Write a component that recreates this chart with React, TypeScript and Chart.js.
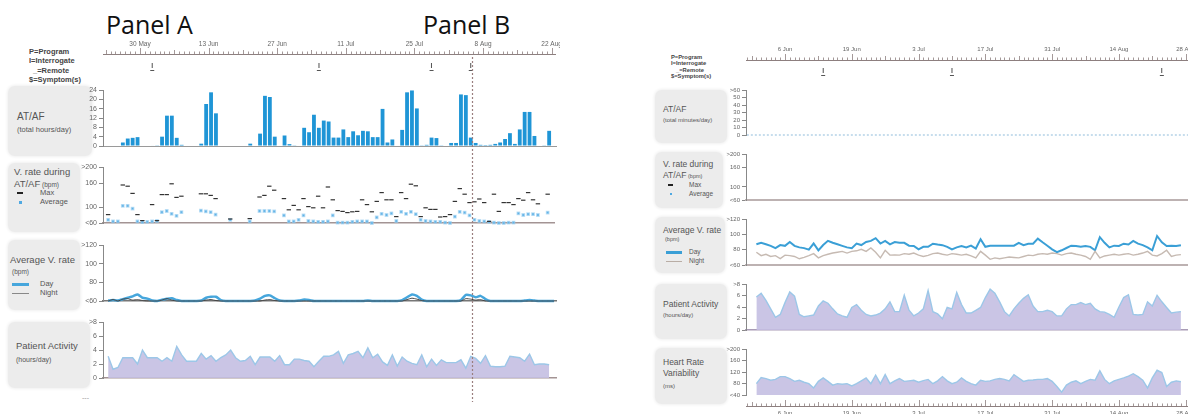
import React, { useEffect, useRef } from "react";
import { Chart, registerables } from "chart.js";
Chart.register(...registerables);

const FONT = "'Liberation Sans', Arial, sans-serif";
Chart.defaults.font.family = FONT;

// ---------------- DATA: Panel A ----------------
const tickLabelsA = ["30 May", "13 Jun", "27 Jun", "11 Jul", "25 Jul", "8 Aug", "22 Aug"];
const tickDaysA = [0, 14, 28, 42, 56, 70, 84];
const markerDaysA = [2.5, 36.5, 59.5, 67.5];
const eventDayA = 67.7;
const startDayA = -7;
const atafHoursA = [
  0, 0, 0, 1.5, 3.2, 3.5, 3.8,
  0, 0, 0.2, 0.3, 4, 13, 13, 3.5, 0.5,
  0, 0, 0, 1, 18, 23, 14,
  0, 0, 0, 0, 0, 0, 1, 0,
  5.3, 21.5, 21, 4, 0, 4.5, 0.8, 0.3, 0,
  7.8, 5.9, 13.4, 7.8, 10.9, 10.5, 3.6, 3.6, 7.1, 3.8,
  6.3, 4.6, 6.5, 6.3, 3.8, 3.8, 15.9, 1.5, 2.8, 0,
  6.9, 23, 23.8, 16.1, 0.3, 0.5, 3.6, 3.4, 0.3, 0,
  1.3, 1.3, 22.1, 21.8, 3.6, 1.3, 0.5, 0.4, 0.5, 0.9,
  1.5, 3, 5.5, 0.9, 7.1, 14.6, 14.6, 4.3, 0, 0.3,
  6.5, 0,
];
const vrDaysA = [
  -7, -6, -5, -4, -3, -2, -1, 0, 1, 2, 3, 4, 5, 6, 7, 8, 12, 13, 14, 15, 18, 22, 24, 25, 26, 27,
  29, 30, 31, 32, 33, 34, 35, 36, 37, 38, 39, 40, 41, 42, 43, 44, 45, 46, 47, 48, 49, 50, 51, 52,
  53, 54, 55, 56, 57, 58, 59, 60, 61, 62, 63, 64, 65, 66, 67, 68, 69, 70, 71, 72, 73, 74, 75, 76,
  77, 78, 79, 80, 81, 83,
];
const vrMaxA = [
  81, null, null, 155, 152, 134, 81, 66, null, 106, 66,
  131, 131, 158, 124, 127,
  133, 133, 129, 121,
  70, 71,
  125, 129, 152, 142,
  121, 93, 104, 93, 121, 101, 98, 127, 98, 150,
  118, 91, 89, 86, 88, 89, 118, 106, 88, 114,
  136, 118, 118, 76, 136, 121, 157, 153, 76, 98,
  94, 94, 75, 76, 81, 114, 146, 132, 111, 113,
  120, 111, 64, 132, 89, 111, 111, 106, 121, 117,
  136, 118, 108, 132,
];
const vrAvgA = [
  68, 64, 64, 103, 103, 96, 64, 62, 63, 64, 65,
  87, 90, 83, 78, 87,
  91, 89, 87, 81,
  68, 64,
  90, 90, 90, 89,
  79, 64, 64, 68, 79, 65, 64, 63, 63, 64,
  79, 61, 61, 61, 63, 64, 64, 64, 60, 74,
  83, 80, 84, 65, 88, 83, 88, 82, 68, 65,
  64, 63, 63, 61, 60, 76, 88, 86, 79, 68,
  65, 64, 63, 61, 60, 60, 61, 61, 84, 80,
  82, 82, 80, 86,
];
const avgDayA = [
  60.5, 61, 60.5, 62, 63.5, 65, 67,
  63.5, 62.5, 60.5, 60, 61.5, 62.5, 63, 61, 60,
  60, 60, 60, 60.5, 63.5, 64.5, 64.5,
  61, 60, 60, 60, 60, 60, 60, 60.5,
  62.5, 65.5, 66, 63, 60.5, 60, 60, 60, 60.5,
  61.5, 61, 60, 60, 60, 60, 60, 60, 60, 60,
  60, 60, 60, 60.5, 60, 60, 60, 60, 60, 60,
  61, 64, 67, 65.5, 61.5, 60, 60, 60, 60, 60,
  60, 60, 61, 66.5, 66, 64, 65.5, 62, 60, 60,
  60, 60, 60, 60, 60, 60.5, 61, 60.5, 60, 60,
  60, 60,
];
const avgNightA = [
  60, 61.5, 60, 62, 62.5, 61, 61.5,
  60.5, 60, 60, 60, 61, 62.5, 61, 60, 60,
  60, 60, 60, 60, 61, 61.5, 60.5,
  60, 60, 60, 60, 60, 60, 60, 60,
  60, 61, 61.5, 60.5, 60, 60, 60, 60, 60,
  60, 60, 60, 60, 60, 60, 60, 60, 60, 60,
  60, 60, 60, 60, 60, 60, 60, 60, 60, 60,
  60, 61.5, 63, 62, 60.5, 60, 60, 60, 60, 60,
  60, 60, 60, 62.5, 62, 61, 61.5, 60, 60, 60,
  60, 60, 60, 60, 60, 60, 60, 60, 60, 60,
  60, 60,
];
const activityA = [
  3.1, 1.25, 1.5, 2.9, 2.9, 2.9, 2.0,
  4.0, 2.9, 2.9, 2.9, 2.4, 2.9, 2.4, 4.5, 3.3,
  2.4, 2.4, 2.4, 3.5, 2.7, 3.2, 2.4,
  2.9, 3.3, 4.0, 2.9, 2.4, 2.5, 3.1, 1.9,
  3.0, 3.0, 3.0, 2.4, 3.2, 1.9, 1.9, 2.7, 2.7,
  2.5, 2.4, 1.6, 2.4, 3.1, 3.1, 3.3, 3.8, 2.1, 3.3,
  3.5, 3.8, 2.9, 4.3, 2.9, 3.4, 2.3, 1.8, 3.3, 1.7,
  3.0, 2.4, 2.1, 1.9, 3.3, 1.6, 2.7, 1.8, 2.6, 2.2,
  2.2, 2.2, 2.6, 1.4, 3.1, 2.8, 2.1, 3.2, 1.7, 1.6,
  1.6, 1.7, 3.1, 3.0, 2.9, 2.4, 3.4, 1.9, 2.0, 2.0,
  1.9,
];

// ---------------- DATA: Panel B ----------------
const tickLabelsB = ["6 Jun", "19 Jun", "3 Jul", "17 Jul", "31 Jul", "14 Aug", "28 Aug"];
const tickDaysB = [0, 14, 28, 42, 56, 70, 84];
const markerDaysB = [8, 35, 79];
const startDayB = -6;
const atafStartB = -8;
const atafMinutesB = [
  0, 0, 0, 0, 0, 0, 0, 0, 0, 0, 0, 0, 0, 0, 0, 0, 0, 0, 0, 0, 0, 0, 0, 0, 0, 0, 0, 0, 0, 0, 0,
  0, 0, 0, 0, 0, 0, 0, 0, 0, 0, 0, 0, 0, 0, 0, 0, 0, 0, 0, 0, 0, 0, 0, 0, 0, 0, 0, 0, 0, 0, 0,
  0, 0, 0, 0, 0, 0, 0, 0, 0, 0, 0, 0, 0, 0, 0, 0, 0, 0, 0, 0, 0, 0, 0, 0, 0, 0, 0, 0, 0, 0, 0, 0,
];
const avgDayB = [
  87, 89, 87, 85, 82, 86, 85, 90, 85, 83, 82, 80, 88, 79, 86, 91.5, 89, 87, 85, 83, 82, 88, 86, 90,
  91.5, 95, 88, 91.5, 87, 90,
  88.9, 88.9, 85.2, 84.8, 80.4, 83.7, 83.7, 87.8, 86.7, 85.9, 83.7, 80.4, 83, 84.8, 83, 85.2, 81.5,
  93.7, 83.7, 85.2, 85.2, 85.2, 85.2, 85.2, 85.2, 88.9, 85.9, 87.8, 87.8, 94.4, 89.6, 85.2, 80.4,
  76.7, 79.2, 82.2, 85.2, 84.8, 83.7, 84.8, 83.7, 79.2, 96.3, 88.9, 83, 85.2, 84.8, 87.8, 86.7,
  91.5, 87.8, 85.9, 83, 79.2, 97.8, 89.6, 84.8, 85.2, 84.8, 85.9,
];
const avgNightB = [
  76.7, 72.2, 74, 71.1, 72.2, 68.4, 72.9, 72.2, 71.1, 68.1, 70, 72.2, 74.8, 69.3, 72.2, 74, 75.6,
  76.7, 77.8, 75.6, 77.8, 78.5, 80.4, 77.8, 82.2, 76.7, 69.3, 79.2, 72.9, 73,
  72.9, 74.8, 74, 75.6, 72.9, 71.1, 72.5, 74.8, 75.6, 74, 72.9, 74.8, 74, 72.9, 74, 71.8, 69.3,
  77.8, 72.9, 67.4, 69.3, 68.1, 69.3, 70.4, 69.8, 69.3, 71.1, 72.9, 72.2, 74, 74.8, 74, 75.6, 74.8,
  72.9, 74.8, 75.6, 74, 72.9, 71.1, 67.4, 77.8, 69.3, 71.8, 72.9, 74, 72.9, 74, 74.8, 72.9, 74,
  75.6, 77.8, 72.9, 71.8, 74.8, 79.2, 71.1, 72.9, 73.5,
];
const activityB = [
  5.74, 6.38, 5.15, 3.68, 2.21, 2.7, 4.76, 6.62, 5.89, 2.7, 2.3, 2.45, 2.6, 4.17, 5.05, 4.66, 3.68,
  2.8, 2.45, 2.21, 3.92, 4.42, 3.43, 2.7, 2.45, 2.6, 2.95, 3.68, 4.9, 3.19,
  3.19, 6.04, 3.43, 2.45, 2.95, 3.68, 6.87, 3.19, 2.8, 1.96, 3.92, 3.68, 6.52, 4.42, 2.95, 2.95,
  3.43, 3.92, 5.64, 7.11, 6.38, 4.9, 3.19, 2.45, 3.68, 4.66, 5.5, 6.13, 4.17, 3.19, 3.19, 3.43,
  3.19, 2.45, 2.45, 3.68, 4.42, 4.42, 4.76, 4.42, 4.66, 3.68, 3.19, 3.1, 2.7, 2.21, 4.0, 5.64,
  6.13, 2.7, 2.6, 2.7, 4.9, 4.17, 6.04, 4.9, 3.92, 2.95, 3.1, 3.19,
];
const hrvB = [
  79.4, 101, 97.2, 91.3, 94.2, 104, 104, 97.2, 87.4, 91.3, 84.4, 79.4, 64.6, 87.4, 99.3, 87.4,
  74.4, 79.4, 77.3, 79.4, 71.4, 79.4, 89.2, 99.3, 79.4, 109, 79.4, 111, 79.4, 89.2,
  97.2, 87.4, 89.2, 91.3, 84.4, 90, 94.2, 79.4, 89.2, 104, 89.2, 79.4, 84.4, 99.3, 87.4, 79.4,
  74.4, 91.3, 87.4, 89.2, 94.2, 97.2, 94.2, 89.2, 111, 99.3, 87.4, 91.3, 92, 94.2, 94.2, 97.2,
  87.4, 69.6, 49.8, 74.4, 84.4, 89.2, 79.4, 87.4, 94.2, 91.3, 124, 94.2, 79.4, 89.2, 94.2, 99.3,
  106, 114, 104, 91.3, 64.6, 99.3, 126, 118, 69.6, 84.4, 89.2, 86,
];

// ---------------- Axis tick sets ----------------
const atafTicksA = [0, 4, 8, 12, 16, 20, 24];
const atafTickLabelsA = ["0", "4", "8", "12", "16", "20", "24"];
const vrTicks = [60, 100, 160, 200];
const vrTickLabels = ["<60", "100", "160", ">200"];
const avgTicks = [60, 80, 100, 120];
const avgTickLabels = ["<60", "80", "100", ">120"];
const actTicks = [0, 2, 4, 6, 8];
const actTickLabels = ["0", "2", "4", "6", ">8"];
const atafTicksB = [0, 10, 20, 30, 40, 50, 60];
const atafTickLabelsB = ["0", "10", "20", "30", "40", "50", ">60"];
const hrvTicks = [40, 80, 120, 160, 200];
const hrvTickLabels = ["<40", "80", "120", "160", ">200"];

// ---------------- Layout ----------------
const PA = { areaLeft: 103, areaRight: 556, xMin: -7.551, xMax: 84.898, axW: 26, fs: 7 };
const PB = { areaLeft: 746, areaRight: 1196, xMin: -8.176, xMax: 86.16, axW: 24, fs: 6 };
const PADT = 7, PADB = 5, PADR = 4;

const BLUE = "#1f95d6";
const LAV = "rgba(196,191,226,0.9)";
const LAVLINE = "#9cc7e8";

type Spec = { key: string; left: number; top: number; width: number; height: number; z: number; config: () => any };

function seriesXY(arr: (number | null)[], start: number, shift: number) {
  return arr.map((v, i) => ({ x: start + i + shift, y: v }));
}

function makeRow(key: string, P: any, top: number, bottom: number, yMin: number, yMax: number,
  ticks: number[], labels: string[], datasets: any[], o: any): Spec {
  return {
    key,
    left: P.areaLeft - P.axW,
    top: top - PADT,
    width: P.areaRight - P.areaLeft + P.axW + PADR,
    height: bottom - top + PADT + PADB,
    z: 2,
    config: () => ({
      type: o.type || "line",
      data: { datasets: datasets.map((d) => ({ ...d })) },
      options: {
        animation: false,
        responsive: false,
        maintainAspectRatio: false,
        events: [],
        layout: { padding: { left: 0, right: PADR, top: PADT, bottom: PADB } },
        plugins: { legend: { display: false }, tooltip: { enabled: false } },
        scales: {
          x: {
            type: "linear", min: P.xMin, max: P.xMax, offset: false,
            ticks: { display: false }, grid: { display: false },
            border: { display: !!o.xBorder, color: o.xBorder || "#999", width: o.xBorderWidth || 1 },
          },
          y: {
            type: "linear", min: yMin, max: yMax,
            afterFit: (s: any) => { s.width = P.axW; },
            afterBuildTicks: (s: any) => { s.ticks = ticks.map((v) => ({ value: v })); },
            ticks: {
              autoSkip: false, padding: 2, color: "#666",
              font: { size: P.fs, family: FONT },
              callback: (_v: any, i: number) => labels[i],
            },
            grid: { drawOnChartArea: false, tickLength: 4, color: "#888", lineWidth: 1 },
            border: { display: true, color: "#888", width: 1 },
          },
        },
      },
    }),
  };
}

const framePlugin = {
  id: "frame",
  afterDraw(chart: any) {
    const o = chart.options.plugins.frame;
    if (!o) return;
    const xs = chart.scales.x;
    const ctx = chart.ctx;
    const L = chart.chartArea.left, R = chart.chartArea.right;
    ctx.save();
    for (const t of o.timelines) {
      ctx.strokeStyle = "#8d7f7f";
      ctx.lineWidth = 1;
      ctx.beginPath();
      ctx.moveTo(L, t.y + 0.5);
      ctx.lineTo(R, t.y + 0.5);
      ctx.stroke();
      ctx.lineWidth = 0.8;
      for (let d = Math.ceil(xs.min); d <= Math.floor(xs.max); d++) {
        const r = (((d - o.tickDays[0]) % 14) + 14) % 14;
        const len = r === 0 ? 6 : r === 7 ? 4 : 2.5;
        const x = Math.round(xs.getPixelForValue(d)) + 0.5;
        ctx.beginPath();
        ctx.moveTo(x, t.y);
        ctx.lineTo(x, t.y - len);
        ctx.stroke();
      }
      ctx.fillStyle = "#666";
      ctx.font = `${t.fs}px ${FONT}`;
      ctx.textAlign = "center";
      ctx.textBaseline = "middle";
      o.tickDays.forEach((d: number, i: number) => ctx.fillText(o.tickLabels[i], xs.getPixelForValue(d), t.labelY));
    }
    ctx.fillStyle = "#555";
    ctx.font = `bold 7px ${FONT}`;
    ctx.textAlign = "center";
    ctx.textBaseline = "middle";
    o.markerDays.forEach((d: number) => {
      const x = xs.getPixelForValue(d);
      ctx.fillText("I", x, o.markerY);
      ctx.fillRect(x - 2, o.markerY + 4, 4, 1);
    });
    if (o.eventDay != null) {
      const x = Math.round(xs.getPixelForValue(o.eventDay)) + 0.5;
      ctx.strokeStyle = "#9a7f7f";
      ctx.lineWidth = 1.2;
      ctx.setLineDash([2, 2]);
      ctx.beginPath();
      ctx.moveTo(x, o.eventTop);
      ctx.lineTo(x, o.eventBottom);
      ctx.stroke();
      ctx.setLineDash([]);
    }
    ctx.restore();
  },
};

function makeFrame(key: string, P: any, frame: any): Spec {
  return {
    key,
    left: P.areaLeft - P.axW,
    top: 0,
    width: P.areaRight - P.areaLeft + P.axW + PADR,
    height: 414,
    z: 3,
    config: () => ({
      type: "line",
      data: { datasets: [] },
      plugins: [framePlugin],
      options: {
        animation: false, responsive: false, maintainAspectRatio: false, events: [],
        layout: { padding: { left: P.axW, right: PADR, top: 0, bottom: 0 } },
        plugins: { legend: { display: false }, tooltip: { enabled: false }, frame },
        scales: {
          x: { type: "linear", min: P.xMin, max: P.xMax, offset: false, ticks: { display: false }, grid: { display: false }, border: { display: false } },
          y: { display: false, min: 0, max: 1 },
        },
      },
    }),
  };
}

const specs: Spec[] = [
  makeFrame("frameA", PA, {
    timelines: [{ y: 54, labelY: 44, fs: 6.5 }],
    tickDays: tickDaysA, tickLabels: tickLabelsA,
    markerDays: markerDaysA, markerY: 66,
    eventDay: eventDayA, eventTop: 57, eventBottom: 402,
  }),
  makeRow("atafA", PA, 90, 154, 0, 24, atafTicksA, atafTickLabelsA, [
    { type: "bar", data: seriesXY(atafHoursA, startDayA, 0.5), backgroundColor: BLUE, barPercentage: 0.78, categoryPercentage: 1, borderWidth: 0 },
  ], { type: "bar", xBorder: "#9a9a9a", xBorderWidth: 1 }),
  makeRow("vrA", PA, 167, 231, 60, 200, vrTicks, vrTickLabels, [
    { data: vrDaysA.map((d, i) => ({ x: d + 0.5, y: vrMaxA[i] })).filter((p) => p.y != null), showLine: false, pointStyle: "line", pointRadius: 2.2, borderColor: "#333", borderWidth: 1.2, clip: false },
    { data: vrDaysA.map((d, i) => ({ x: d + 0.5, y: vrAvgA[i] })), showLine: false, pointStyle: "rect", pointRadius: 1.6, backgroundColor: "#4fa9e2", borderColor: "rgba(150,205,240,0.6)", borderWidth: 1.5, clip: false },
  ], { xBorder: "#a39494", xBorderWidth: 1.5 }),
  makeRow("avgA", PA, 245, 309, 60, 120, avgTicks, avgTickLabels, [
    { data: seriesXY(avgNightA, startDayA, 0.5), borderColor: "#444", borderWidth: 1, pointRadius: 0, tension: 0.2, clip: false },
    { data: seriesXY(avgDayA, startDayA, 0.5), borderColor: "#46a6dc", borderWidth: 2.5, pointRadius: 0, tension: 0.2, clip: false },
  ], { xBorder: "#777", xBorderWidth: 1.5 }),
  makeRow("actA", PA, 322, 386, 0, 8, actTicks, actTickLabels, [
    { data: seriesXY(activityA, startDayA, 0.5), borderColor: LAVLINE, borderWidth: 1.4, pointRadius: 0, fill: "origin", backgroundColor: LAV },
  ], { xBorder: "#a39494", xBorderWidth: 1.5 }),

  makeFrame("frameB", PB, {
    timelines: [{ y: 60, labelY: 49, fs: 6 }, { y: 406, labelY: 413, fs: 6 }],
    tickDays: tickDaysB, tickLabels: tickLabelsB,
    markerDays: markerDaysB, markerY: 71,
    eventDay: null,
  }),
  makeRow("atafB", PB, 90, 143, 0, 60, atafTicksB, atafTickLabelsB, [
    { data: seriesXY(atafMinutesB, atafStartB, 0), borderColor: "#8fbcdc", borderWidth: 1.2, borderDash: [2, 2], pointRadius: 0, clip: false },
  ], {}),
  makeRow("vrB", PB, 154, 208, 60, 200, vrTicks, vrTickLabels, [], { xBorder: "#bdb2b2", xBorderWidth: 2 }),
  makeRow("avgB", PB, 219, 273, 60, 120, avgTicks, avgTickLabels, [
    { data: seriesXY(avgNightB, startDayB, 0), borderColor: "#c6bab2", borderWidth: 1.4, pointRadius: 0 },
    { data: seriesXY(avgDayB, startDayB, 0), borderColor: "#3a9fd6", borderWidth: 2, pointRadius: 0 },
  ], { xBorder: "#bdb2b2", xBorderWidth: 2 }),
  makeRow("actB", PB, 284, 338, 0, 8, actTicks, actTickLabels, [
    { data: seriesXY(activityB, startDayB, 0), borderColor: LAVLINE, borderWidth: 1.4, pointRadius: 0, fill: "origin", backgroundColor: LAV },
  ], { xBorder: "#a99cb6", xBorderWidth: 1.5 }),
  makeRow("hrvB", PB, 349, 403, 40, 200, hrvTicks, hrvTickLabels, [
    { data: seriesXY(hrvB, startDayB, 0), borderColor: LAVLINE, borderWidth: 1.4, pointRadius: 0, fill: "start", backgroundColor: LAV },
  ], {}),
];

// ---------------- HTML text & label boxes ----------------
const boxes = [
  { x: 8, y: 86, w: 84, h: 70 }, { x: 8, y: 163, w: 72, h: 69 }, { x: 8, y: 240, w: 72, h: 70 }, { x: 8, y: 322, w: 82, h: 66 },
  { x: 655, y: 90, w: 72, h: 53 }, { x: 655, y: 152, w: 68, h: 56 }, { x: 655, y: 217, w: 70, h: 56 }, { x: 655, y: 284, w: 72, h: 55 }, { x: 655, y: 348, w: 72, h: 56 },
];
type Txt = { t: string; x: number; y: number; fs: number; bold?: boolean; color?: string; fam?: string; sub?: string; subFs?: number };
const texts: Txt[] = [
  { t: "Panel A", x: 106, y: 24, fs: 25, color: "#111", fam: "'Open Sans', sans-serif" },
  { t: "Panel B", x: 423, y: 24, fs: 25, color: "#111", fam: "'Open Sans', sans-serif" },
  { t: "P=Program", x: 29, y: 51.7, fs: 7.5, bold: true, color: "#444" },
  { t: "I=Interrogate", x: 29, y: 61.2, fs: 7.5, bold: true, color: "#444" },
  { t: "_=Remote", x: 33, y: 70.7, fs: 7.5, bold: true, color: "#444" },
  { t: "$=Symptom(s)", x: 29, y: 80.2, fs: 7.5, bold: true, color: "#444" },
  { t: "AT/AF", x: 17, y: 117, fs: 10 },
  { t: "(total hours/day)", x: 17, y: 130, fs: 7.5 },
  { t: "V. rate during", x: 14, y: 172, fs: 9.5 },
  { t: "AT/AF", x: 14, y: 184, fs: 9.5, sub: " (bpm)", subFs: 6.5 },
  { t: "Max", x: 40, y: 193, fs: 7.5 },
  { t: "Average", x: 40, y: 202, fs: 7.5 },
  { t: "Average V. rate", x: 10, y: 260, fs: 9.5 },
  { t: "(bpm)", x: 12, y: 272, fs: 6.5 },
  { t: "Day", x: 40, y: 284, fs: 7.5 },
  { t: "Night", x: 40, y: 293, fs: 7.5 },
  { t: "Patient Activity", x: 16, y: 346, fs: 9.5 },
  { t: "(hours/day)", x: 16, y: 359, fs: 7 },
  { t: "---", x: 82, y: 397, fs: 7, color: "#999" },
  { t: "P=Program", x: 671, y: 57.5, fs: 5.8, bold: true, color: "#444" },
  { t: "I=Interrogate", x: 671, y: 64, fs: 5.8, bold: true, color: "#444" },
  { t: "_=Remote", x: 676, y: 70.5, fs: 5.8, bold: true, color: "#444" },
  { t: "$=Symptom(s)", x: 671, y: 77, fs: 5.8, bold: true, color: "#444" },
  { t: "AT/AF", x: 663, y: 109, fs: 8.5 },
  { t: "(total minutes/day)", x: 663, y: 120, fs: 6 },
  { t: "V. rate during", x: 663, y: 164, fs: 8.5 },
  { t: "AT/AF", x: 663, y: 175, fs: 8.5, sub: " (bpm)", subFs: 5.5 },
  { t: "Max", x: 689, y: 185, fs: 6.5 },
  { t: "Average", x: 689, y: 194, fs: 6.5 },
  { t: "Average V. rate", x: 663, y: 230, fs: 8.5 },
  { t: "(bpm)", x: 665, y: 240, fs: 5.5 },
  { t: "Day", x: 689, y: 252, fs: 6.5 },
  { t: "Night", x: 689, y: 261, fs: 6.5 },
  { t: "Patient Activity", x: 663, y: 304, fs: 8.5 },
  { t: "(hours/day)", x: 663, y: 315, fs: 6 },
  { t: "Heart Rate", x: 663, y: 362, fs: 8.5 },
  { t: "Variability", x: 663, y: 373, fs: 8.5 },
  { t: "(ms)", x: 663, y: 386, fs: 6 },
];
const icons = [
  { x: 17, y: 192, w: 6, h: 2, c: "#222" },
  { x: 18.5, y: 200.5, w: 3, h: 3, c: "#4fa9e2" },
  { x: 12, y: 283, w: 17, h: 2.5, c: "#46a6dc" },
  { x: 12, y: 292.5, w: 17, h: 1.2, c: "#888" },
  { x: 668, y: 184, w: 5, h: 2, c: "#222" },
  { x: 669.5, y: 192.8, w: 2.5, h: 2.5, c: "#4fa9e2" },
  { x: 666, y: 251, w: 16, h: 2.5, c: "#3a9fd6" },
  { x: 666, y: 260.5, w: 16, h: 1.2, c: "#b9ada5" },
];

function ChartCanvas({ spec }: { spec: Spec }) {
  const ref = useRef<HTMLCanvasElement>(null);
  useEffect(() => {
    const chart = new Chart(ref.current as HTMLCanvasElement, spec.config());
    return () => chart.destroy();
  }, [spec]);
  return (
    <canvas
      ref={ref}
      width={spec.width}
      height={spec.height}
      style={{ position: "absolute", left: spec.left, top: spec.top, width: spec.width, height: spec.height, zIndex: spec.z, pointerEvents: "none" }}
    />
  );
}

export default function App() {
  useEffect(() => {
    document.body.style.margin = "0";
    document.body.style.overflow = "hidden";
  }, []);
  return (
    <div style={{ position: "absolute", left: 0, top: 0, width: 1188, height: 414, overflow: "hidden", background: "#fff", fontFamily: FONT }}>
      {boxes.map((b, i) => (
        <div key={"b" + i} style={{ position: "absolute", left: b.x, top: b.y, width: b.w, height: b.h, background: "#ececec", borderRadius: 7, boxShadow: "0 0 3px 1px #f0f0f0", zIndex: 0 }} />
      ))}
      {icons.map((c, i) => (
        <div key={"i" + i} style={{ position: "absolute", left: c.x, top: c.y, width: c.w, height: c.h, background: c.c, zIndex: 1 }} />
      ))}
      {texts.map((t, i) => (
        <div
          key={"t" + i}
          style={{
            position: "absolute", left: t.x, top: t.y - t.fs * 0.5, fontSize: t.fs, lineHeight: 1,
            fontWeight: t.bold ? 700 : 400, color: t.color || "#555", whiteSpace: "nowrap",
            fontFamily: t.fam || FONT, zIndex: 1,
          }}
        >
          {t.t}
          {t.sub ? <span style={{ fontSize: t.subFs }}>{t.sub}</span> : null}
        </div>
      ))}
      {specs.map((s) => (
        <ChartCanvas key={s.key} spec={s} />
      ))}
    </div>
  );
}
